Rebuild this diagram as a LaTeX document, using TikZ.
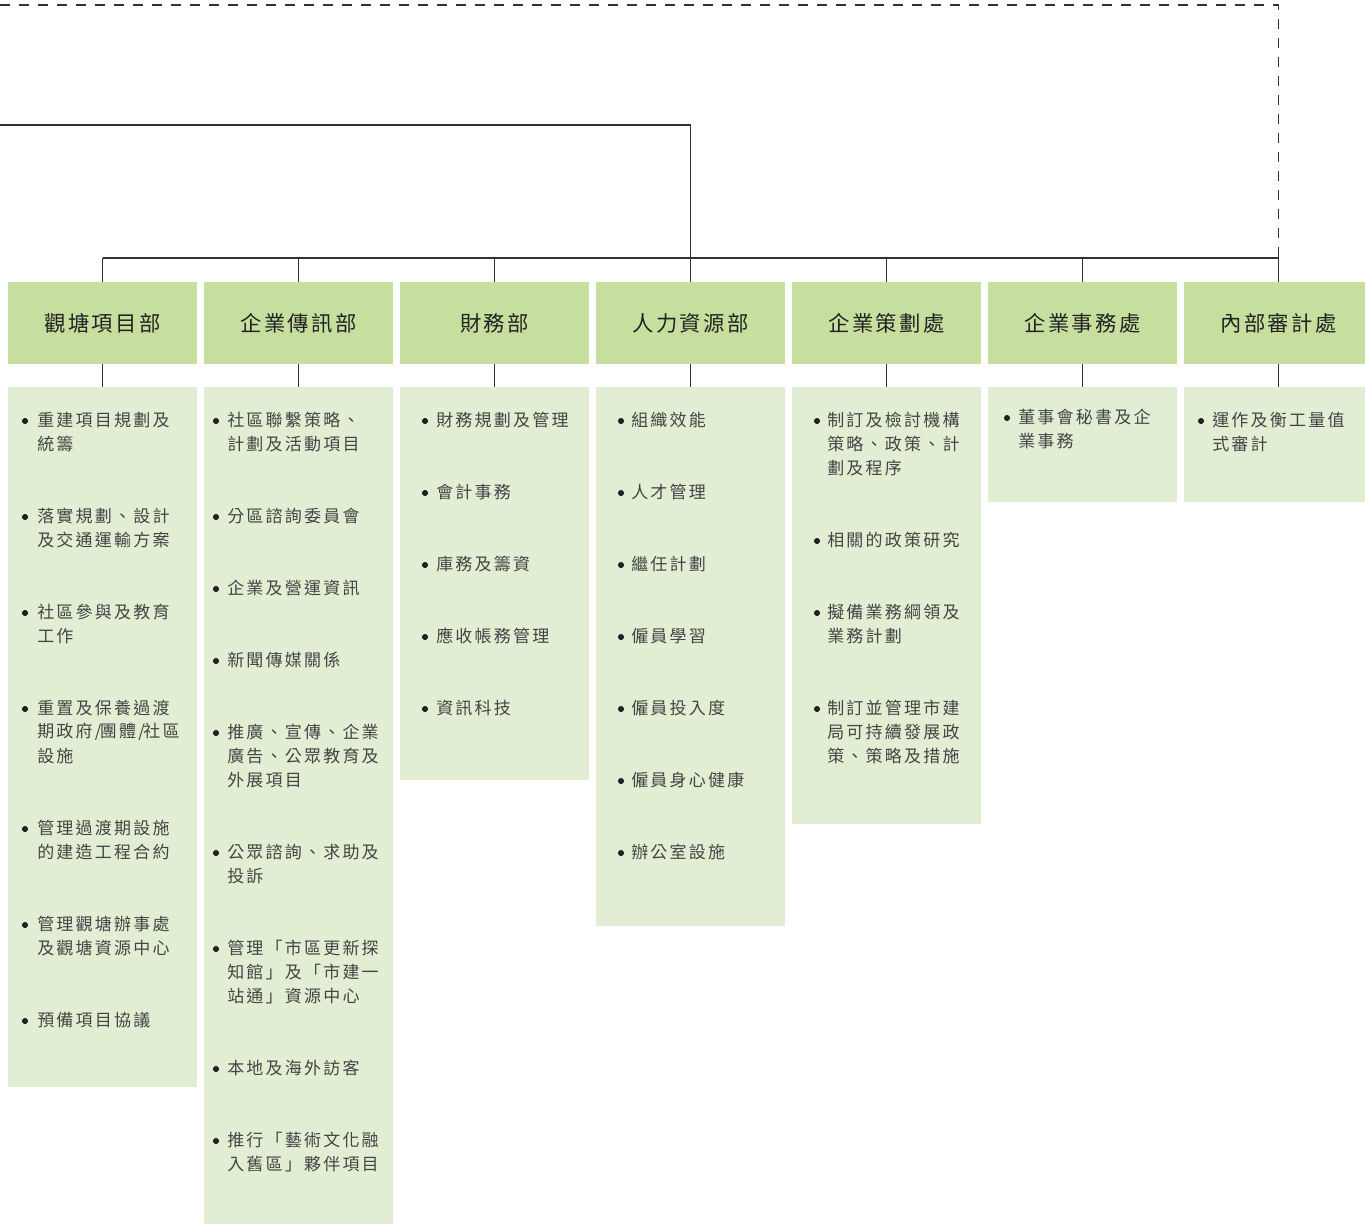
\documentclass[tikz,border=0pt]{standalone}
\usepackage{fontspec}
\newfontfamily\cjkb[LetterSpace=13]{Noto Sans CJK TC}
\newfontfamily\cjkh[LetterSpace=11]{Noto Sans CJK TC}
\definecolor{hdrfill}{HTML}{C6DF9F}
\definecolor{bdyfill}{HTML}{E2EED4}
\definecolor{linec}{HTML}{333333}
\definecolor{bodytxt}{HTML}{444444}
\definecolor{hdrtxt}{HTML}{222222}
\tikzset{
  hdrbox/.style={rectangle, fill=hdrfill, draw=none, minimum width=141.75pt, minimum height=61.5pt, inner sep=0pt,
    font=\cjkh\fontsize{16pt}{19pt}\selectfont, text=hdrtxt},
  bdybox/.style={rectangle, fill=bdyfill, draw=none, minimum width=141.75pt, anchor=north, inner sep=0pt},
  bt/.style={anchor=west, inner sep=0pt, font=\cjkb\fontsize{12.75pt}{18pt}\selectfont, text=bodytxt},
  conn/.style={draw=linec, line width=1pt},
  dconn/.style={draw=linec, line width=1pt, dash pattern=on 7.5pt off 6.75pt},
}
\newcommand\bul[2]{\fill[hdrtxt] (#1,#2) circle (2.3pt);}
\begin{document}
\begin{tikzpicture}[x=0.75pt, y=-0.75pt]
\useasboundingbox (0,0) rectangle (1365,1224);
% headers
\node[hdrbox] (h1) at (102.5,323) {觀塘項目部};
\node[hdrbox] (h2) at (298.5,323) {企業傳訊部};
\node[hdrbox] (h3) at (494.5,323) {財務部};
\node[hdrbox] (h4) at (690.5,323) {人力資源部};
\node[hdrbox] (h5) at (886.5,323) {企業策劃處};
\node[hdrbox] (h6) at (1082.5,323) {企業事務處};
\node[hdrbox] (h7) at (1278.5,323) {內部審計處};
% body boxes
\node[bdybox, minimum height=525pt] (b1) at (102.5,387) {};
\node[bdybox, minimum height=630pt] (b2) at (298.5,387) {};
\node[bdybox, minimum height=294.75pt] (b3) at (494.5,387) {};
\node[bdybox, minimum height=404.25pt] (b4) at (690.5,387) {};
\node[bdybox, minimum height=327.75pt] (b5) at (886.5,387) {};
\node[bdybox, minimum height=86.25pt] (b6) at (1082.5,387) {};
\node[bdybox, minimum height=86.25pt] (b7) at (1278.5,387) {};
% connectors
\coordinate (bus) at (0,258);
\coordinate (topL) at (0,125);
\coordinate (dashL) at (0,5);
\draw[conn] (h1.north |- bus) -- (h7.north |- bus);
\foreach \i in {1,...,7}{
  \draw[conn] (h\i.north) -- (h\i.north |- bus);
  \draw[conn] (h\i.south) -- (b\i.north);
}
\draw[conn] (topL) -| (h4.north |- bus);
\draw[dconn] (dashL) -| (h7.north |- bus);
% column 1
\bul{25}{421}\node[bt] (c1a) at (37,420) {重建項目規劃及};
\node[bt] (c1b) at (37,444) {統籌};
\bul{25}{517}\node[bt] (c1c) at (37,516) {落實規劃、設計};
\node[bt] (c1d) at (37,540) {及交通運輸方案};
\bul{25}{613}\node[bt] (c1e) at (37,612) {社區參與及教育};
\node[bt] (c1f) at (37,636) {工作};
\bul{25}{709}\node[bt] (c1g) at (37,708) {重置及保養過渡};
\node[bt] (c1h) at (37,732) {期政府/\kern-1.2pt團體/\kern-1.2pt社區};
\node[bt] (c1i) at (37,756) {設施};
\bul{25}{829}\node[bt] (c1j) at (37,828) {管理過渡期設施};
\node[bt] (c1k) at (37,852) {的建造工程合約};
\bul{25}{925}\node[bt] (c1l) at (37,924) {管理觀塘辦事處};
\node[bt] (c1m) at (37,948) {及觀塘資源中心};
\bul{25}{1021}\node[bt] (c1n) at (37,1020) {預備項目協議};
% column 2
\bul{216}{421}\node[bt] (c2a) at (227,420) {社區聯繫策略、};
\node[bt] (c2b) at (227,444) {計劃及活動項目};
\bul{216}{517}\node[bt] (c2c) at (227,516) {分區諮詢委員會};
\bul{216}{589}\node[bt] (c2d) at (227,588) {企業及營運資訊};
\bul{216}{661}\node[bt] (c2e) at (227,660) {新聞傳媒關係};
\bul{216}{733}\node[bt] (c2f) at (227,732) {推廣、宣傳、企業};
\node[bt] (c2g) at (227,756) {廣告、公眾教育及};
\node[bt] (c2h) at (227,780) {外展項目};
\bul{216}{853}\node[bt] (c2i) at (227,852) {公眾諮詢、求助及};
\node[bt] (c2j) at (227,876) {投訴};
\bul{216}{949}\node[bt] (c2k) at (227,948) {管理「市區更新探};
\node[bt] (c2l) at (227,972) {知館」及「市建一};
\node[bt] (c2m) at (227,996) {站通」資源中心};
\bul{216}{1069}\node[bt] (c2n) at (227,1068) {本地及海外訪客};
\bul{216}{1141}\node[bt] (c2o) at (227,1140) {推行「藝術文化融};
\node[bt] (c2p) at (227,1164) {入舊區」夥伴項目};
% column 3
\bul{425}{421}\node[bt] (c3a) at (436,420) {財務規劃及管理};
\bul{425}{493}\node[bt] (c3b) at (436,492) {會計事務};
\bul{425}{565}\node[bt] (c3c) at (436,564) {庫務及籌資};
\bul{425}{637}\node[bt] (c3d) at (436,636) {應收帳務管理};
\bul{425}{709}\node[bt] (c3e) at (436,708) {資訊科技};
% column 4
\bul{621}{421}\node[bt] (c4a) at (631,420) {組織效能};
\bul{621}{493}\node[bt] (c4b) at (631,492) {人才管理};
\bul{621}{565}\node[bt] (c4c) at (631,564) {繼任計劃};
\bul{621}{637}\node[bt] (c4d) at (631,636) {僱員學習};
\bul{621}{709}\node[bt] (c4e) at (631,708) {僱員投入度};
\bul{621}{781}\node[bt] (c4f) at (631,780) {僱員身心健康};
\bul{621}{853}\node[bt] (c4g) at (631,852) {辦公室設施};
% column 5
\bul{817}{421}\node[bt] (c5a) at (827,420) {制訂及檢討機構};
\node[bt] (c5b) at (827,444) {策略、政策、計};
\node[bt] (c5c) at (827,468) {劃及程序};
\bul{817}{541}\node[bt] (c5d) at (827,540) {相關的政策研究};
\bul{817}{613}\node[bt] (c5e) at (827,612) {擬備業務綱領及};
\node[bt] (c5f) at (827,636) {業務計劃};
\bul{817}{709}\node[bt] (c5g) at (827,708) {制訂並管理市建};
\node[bt] (c5h) at (827,732) {局可持續發展政};
\node[bt] (c5i) at (827,756) {策、策略及措施};
% column 6
\bul{1007}{418}\node[bt] (c6a) at (1018,417) {董事會秘書及企};
\node[bt] (c6b) at (1018,441) {業事務};
% column 7
\bul{1201}{421}\node[bt] (c7a) at (1212,420) {運作及衡工量值};
\node[bt] (c7b) at (1212,444) {式審計};
\end{tikzpicture}
\end{document}
